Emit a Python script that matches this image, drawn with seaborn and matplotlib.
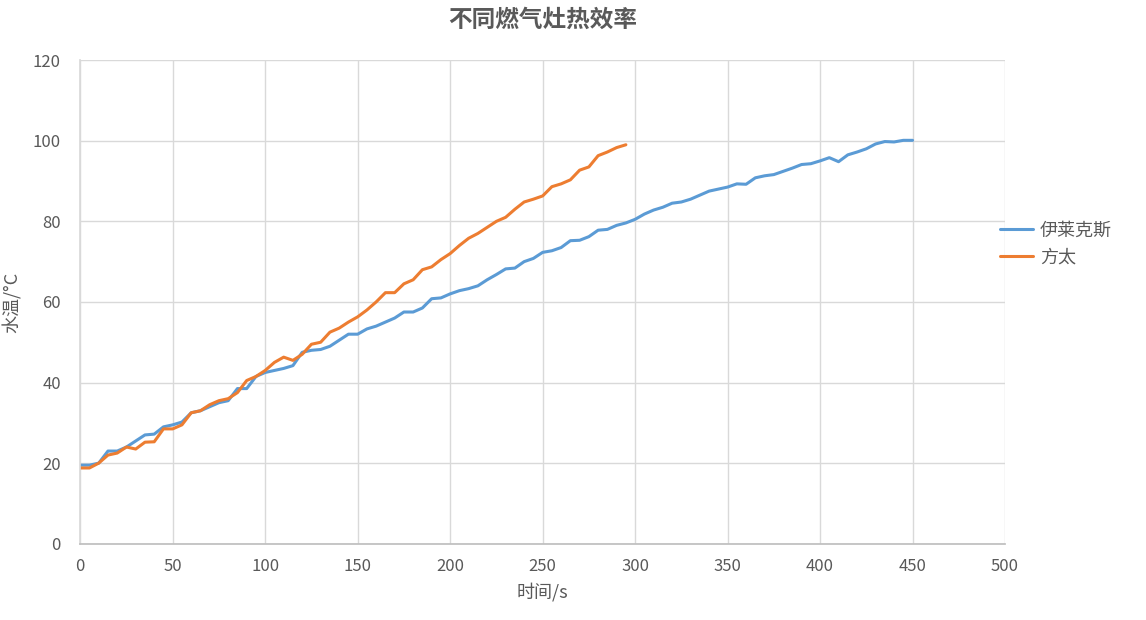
import numpy as np
import pandas as pd
import seaborn as sns
import matplotlib.pyplot as plt

# time in seconds, water temperature in °C
t_elux = list(range(0, 451, 5))
temp_elux = [19.5, 19.5, 20, 23, 23, 24, 25.5, 27, 27.2, 29, 29.5, 30.2, 32.5, 33, 34, 35, 35.5, 38.5, 38.5,
             41.5, 42.5, 43, 43.5, 44.2, 47.5, 48, 48.2, 49, 50.5, 52, 52, 53.3, 54, 55, 56, 57.5, 57.5, 58.5,
             60.8, 61, 62, 62.8, 63.3, 64, 65.5, 66.8, 68.2, 68.4, 70, 70.8, 72.3, 72.7, 73.5, 75.2, 75.3, 76.2,
             77.8, 78, 79, 79.6, 80.5, 81.8, 82.8, 83.5, 84.5, 84.8, 85.5, 86.5, 87.5, 88, 88.5, 89.3, 89.2,
             90.8, 91.3, 91.6, 92.4, 93.2, 94.1, 94.3, 95, 95.8, 94.8, 96.5, 97.2, 98, 99.2, 99.8, 99.7, 100.1,
             100.1]
t_fotile = list(range(0, 296, 5))
temp_fotile = [18.8, 18.8, 20, 22, 22.5, 24, 23.5, 25.2, 25.3, 28.5, 28.5, 29.5, 32.5, 33, 34.5, 35.5, 36,
               37.5, 40.5, 41.5, 43, 45, 46.3, 45.5, 47, 49.5, 50, 52.5, 53.5, 55, 56.3, 58, 60, 62.3, 62.3,
               64.5, 65.5, 68, 68.7, 70.5, 72, 74, 75.8, 77, 78.5, 80, 81, 83, 84.8, 85.5, 86.3, 88.6, 89.3,
               90.3, 92.7, 93.5, 96.3, 97.2, 98.3, 99]

df = pd.concat([
    pd.DataFrame({'time': t_elux, 'temp': temp_elux, 'brand': '伊莱克斯'}),
    pd.DataFrame({'time': t_fotile, 'temp': temp_fotile, 'brand': '方太'}),
])

sns.set_theme(style="whitegrid")
plt.rcParams['font.family'] = ['Noto Sans CJK SC', 'DejaVu Sans']

fig, ax = plt.subplots(figsize=(11.46, 6.2), dpi=100)
fig.subplots_adjust(left=0.07, right=0.877, top=0.903, bottom=0.123)
sns.lineplot(data=df, x='time', y='temp', hue='brand', palette=['#5B9BD5', '#ED7D31'],
             linewidth=2.2, ax=ax)

ax.set_xlim(0, 500)
ax.set_ylim(0, 120)
ax.set_xticks(range(0, 501, 50))
ax.set_yticks(range(0, 121, 20))
ax.grid(color='#d9d9d9', linewidth=1)
for s in ax.spines.values():
    s.set_visible(False)
ax.spines['bottom'].set_visible(True)
ax.spines['bottom'].set_color('#bfbfbf')
ax.spines['left'].set_visible(True)
ax.spines['left'].set_color('#d9d9d9')
ax.tick_params(colors='#595959', labelsize=12, length=0)
ax.tick_params(axis='y', pad=14)
ax.tick_params(axis='x', pad=10)
ax.set_xlabel('时间/s', fontsize=13, color='#595959', labelpad=6)
ax.set_ylabel('水温/°C', fontsize=13, color='#595959', labelpad=8)
ax.set_title('不同燃气灶热效率', fontsize=17, fontweight='bold', color='#595959', pad=24)
ax.legend(loc='center left', bbox_to_anchor=(0.995, 0.62), frameon=False, fontsize=13,
          labelcolor='#595959', handlelength=1.8, handletextpad=0.4, borderpad=0,
          borderaxespad=0, title=None)

plt.savefig('out.png')
